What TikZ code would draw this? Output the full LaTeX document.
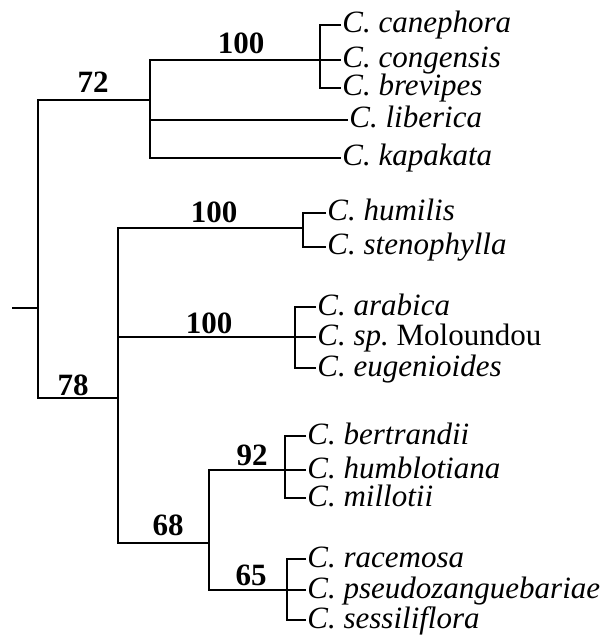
\documentclass[tikz,border=0pt]{standalone}
\usepackage{fontspec}
\setmainfont{Liberation Serif}
\usetikzlibrary{positioning, calc}

\begin{document}
\begin{tikzpicture}[
  x=0.5pt, y=-0.5pt,
  branch/.style={black, line width=0.55pt},
  taxon/.style={anchor=west, inner sep=0.5pt, text height=10pt, text depth=2pt,
                font=\itshape\fontsize{15.5}{17}\selectfont},
  boot/.style={anchor=base, inner sep=0pt,
               font=\bfseries\fontsize{15.5}{17}\selectfont},
]

\useasboundingbox (0,0) rectangle (608,635);

% =====================================================================
% Upper clade (72)
% =====================================================================
\coordinate (k72)   at (150,100);
\coordinate (k100a) at (320,60);

\node[taxon] (cane) at (341,25)  {C. canephora};
\node[taxon] (cong) at (341,60)  {C. congensis};
\node[taxon] (brev) at (341,88)  {C. brevipes};
\node[taxon] (libe) at (348,120) {C. liberica};
\node[taxon] (kapa) at (341,158) {C. kapakata};

\draw[branch] (cane.west) -| (k100a) |- (brev.west);
\draw[branch] (k100a) -- (cong.west);
\draw[branch] (k100a) -| (k72) |- (kapa.west);
\draw[branch] (k72 |- libe.west) -- (libe.west);

\node[boot] (b72)   at (93,93)  {72};
\node[boot] (b100a) at (241,54) {100};

% =====================================================================
% Lower clade (78)
% =====================================================================
\coordinate (k78)   at (118,398);
\coordinate (k100b) at (303,228);
\coordinate (k100c) at (295,337);
\coordinate (k68)   at (209,543);
\coordinate (k92)   at (285,470);
\coordinate (k65)   at (287,590);

% humilis group
\node[taxon] (humi) at (326,213) {C. humilis};
\node[taxon] (sten) at (326,247) {C. stenophylla};
\draw[branch] (humi.west) -| (k100b) |- (sten.west);

% arabica group
\node[taxon] (arab) at (316,307) {C. arabica};
\node[taxon] (molo) at (316,337) {C. sp.\ \upshape Moloundou};
\node[taxon] (euge) at (316,368) {C. eugenioides};
\draw[branch] (arab.west) -| (k100c) |- (euge.west);
\draw[branch] (k100c) -- (molo.west);

% Madagascar group
\node[taxon] (bert) at (306,436) {C. bertrandii};
\node[taxon] (humb) at (306,470) {C. humblotiana};
\node[taxon] (mill) at (306,498) {C. millotii};
\draw[branch] (bert.west) -| (k92) |- (mill.west);
\draw[branch] (k92) -- (humb.west);

% racemosa group
\node[taxon] (race) at (306,559) {C. racemosa};
\node[taxon] (pseu) at (306,590) {C. pseudozanguebariae};
\node[taxon] (sess) at (306,620) {C. sessiliflora};
\draw[branch] (race.west) -| (k65) |- (sess.west);
\draw[branch] (k65) -- (pseu.west);

% internal branches
\draw[branch] (k92) -| (k68) |- (k65);
\draw[branch] (k100b) -| (k78) |- (k68);
\draw[branch] (k78 |- k100c) -- (k100c);

\node[boot] (b100b) at (214,223) {100};
\node[boot] (b100c) at (209,334) {100};
\node[boot] (b92)   at (252,465) {92};
\node[boot] (b68)   at (168,535) {68};
\node[boot] (b65)   at (251,585) {65};
\node[boot] (b78)   at (73,395)  {78};

% =====================================================================
% Root
% =====================================================================
\coordinate (root) at (38,308);
\coordinate (stub) at (12,308);
\draw[branch] (stub) -- (root);
\draw[branch] (k72) -| (root) |- (k78);

\end{tikzpicture}
\end{document}
